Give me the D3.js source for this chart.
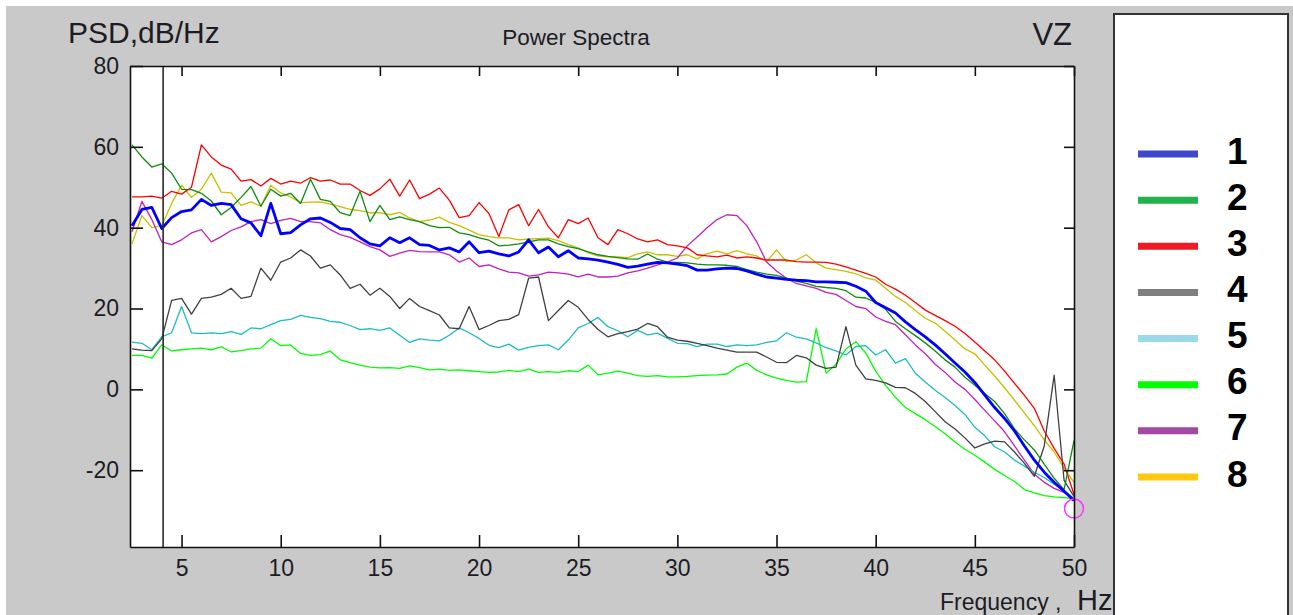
<!DOCTYPE html>
<html>
<head>
<meta charset="utf-8">
<script src="https://cdn.jsdelivr.net/npm/d3@7"></script>
<style>
  body { margin: 0; background: #c9c9c9; }
  svg { display: block; font-family: Arial, "Liberation Sans", sans-serif; }
</style>
</head>
<body>
<svg id="chart" width="1293" height="615"></svg>
<script>
// frequency grid, Hz
let freqs = [
  2.5, 3, 3.5, 4, 4.5, 5, 5.5, 6, 6.5, 7,
  7.5, 8, 8.5, 9, 9.5, 10, 10.5, 11, 11.5, 12,
  12.5, 13, 13.5, 14, 14.5, 15, 15.5, 16, 16.5, 17,
  17.5, 18, 18.5, 19, 19.5, 20, 20.5, 21, 21.5, 22,
  22.5, 23, 23.5, 24, 24.5, 25, 25.5, 26, 26.5, 27,
  27.5, 28, 28.5, 29, 29.5, 30, 30.5, 31, 31.5, 32,
  32.5, 33, 33.5, 34, 34.5, 35, 35.5, 36, 36.5, 37,
  37.5, 38, 38.5, 39, 39.5, 40, 40.5, 41, 41.5, 42,
  42.5, 43, 43.5, 44, 44.5, 45, 45.5, 46, 46.5, 47,
  47.5, 48, 48.5, 49, 49.5, 50
];

// PSD values, dB/Hz
let psd1 = [
  40.5, 44.5, 45.0, 39.8, 42.5, 44.0, 44.4, 47.0, 45.5, 46.0,
  45.7, 42.2, 41.2, 38.0, 46.0, 38.5, 38.8, 40.7, 42.2, 42.4,
  41.3, 39.8, 39.5, 37.5, 36.0, 35.5, 37.5, 36.3, 37.5, 35.8,
  35.6, 34.5, 35.0, 34.0, 36.5, 33.8, 34.2, 33.5, 33.0, 34.0,
  37.0, 33.8, 35.2, 32.8, 34.3, 32.5, 32.3, 32.0, 31.5, 30.9,
  30.2, 30.5, 31.0, 31.4, 31.3, 31.0, 30.6, 29.5, 29.5, 29.8,
  30.0, 29.9, 29.3, 28.5, 27.8, 27.5, 27.2, 27.0, 26.9, 26.6,
  26.6, 26.5, 26.4, 25.5, 24.3, 21.5, 20.2, 18.9, 16.7, 14.8,
  13.0, 11.0, 8.8, 6.5, 4.3, 1.7, -1.4, -4.5, -7.2, -10.3,
  -14.0, -17.5, -20.5, -23.0, -25.2, -27.5
];
let psd2 = [
  60.5, 57.5, 55.0, 55.8, 53.5, 49.5, 49.4, 48.5, 46.6, 43.2,
  45.0, 47.5, 50.2, 45.3, 49.5, 47.8, 48.5, 46.0, 52.0, 47.0,
  46.5, 43.7, 43.0, 49.0, 41.5, 45.5, 42.0, 42.7, 42.0, 41.5,
  40.5, 40.0, 40.1, 38.7, 38.3, 37.5, 36.9, 35.5, 35.7, 36.0,
  36.5, 37.0, 37.0, 36.0, 35.3, 34.8, 34.0, 33.3, 32.9, 32.6,
  32.3, 32.2, 33.5, 32.2, 31.5, 31.4, 31.3, 31.0, 30.8, 30.8,
  30.7, 30.4, 29.6, 29.0, 28.5, 28.2, 27.5, 26.8, 26.2, 25.5,
  25.2, 25.0, 24.4, 22.8, 22.6, 21.5, 19.8, 16.8, 15.0, 13.3,
  11.5, 9.5, 7.3, 5.5, 3.0, 1.0, -1.0, -3.0, -6.0, -9.8,
  -12.5, -15.0, -18.5, -22.0, -24.8, -12.7
];
let psd3 = [
  47.6, 47.6, 47.8, 47.3, 49.0, 48.3, 50.0, 60.5, 57.5, 55.5,
  54.5, 51.5, 51.9, 50.3, 52.2, 50.8, 51.5, 51.0, 52.4, 51.5,
  51.8, 50.8, 50.8, 49.2, 48.0, 49.6, 52.0, 47.8, 51.8, 47.2,
  48.3, 49.8, 46.8, 42.5, 43.0, 46.2, 43.5, 37.8, 44.4, 45.7,
  40.5, 44.5, 40.2, 37.5, 42.0, 41.0, 42.4, 37.5, 35.8, 39.5,
  38.5, 37.2, 36.5, 37.0, 35.8, 35.5, 35.0, 33.3, 33.0, 32.8,
  33.2, 32.5, 32.8, 32.5, 32.0, 32.0, 32.0, 31.6, 31.5, 31.5,
  31.4, 31.0, 30.3, 29.5, 28.7, 27.8, 26.0, 24.8, 23.3, 21.5,
  19.6, 18.3, 17.0, 15.6, 13.8, 11.7, 9.5, 7.3, 4.5, 1.5,
  -1.5, -4.7, -10.3, -14.6, -18.5, -26.0
];
let psd4 = [
  10.0, 9.7, 9.6, 12.5, 22.0, 22.5, 18.6, 22.5, 22.8, 23.5,
  25.0, 22.5, 23.0, 30.0, 27.0, 31.5, 32.5, 34.5, 33.0, 30.0,
  30.8, 28.3, 25.0, 26.0, 23.3, 25.0, 23.0, 20.0, 22.5, 20.5,
  19.5, 18.4, 15.2, 15.0, 20.5, 14.8, 15.8, 17.0, 17.3, 18.5,
  27.5, 27.8, 17.0, 19.5, 22.0, 20.3, 17.3, 14.8, 13.0, 13.8,
  14.3, 14.9, 16.3, 15.5, 12.9, 12.2, 11.9, 11.4, 10.8, 10.2,
  9.7, 9.2, 9.2, 9.2, 8.0, 6.7, 6.6, 8.4, 7.8, 6.0,
  5.2, 5.5, 15.5, 6.0, 2.6, 2.2, 1.6, 0.5, 0.4, -1.0,
  -3.0, -5.5, -8.0, -9.8, -12.0, -14.5, -13.5, -12.8, -13.0, -15.5,
  -18.3, -21.5, -14.0, 3.5, -22.5, -26.5
];
let psd5 = [
  11.7, 11.4, 9.8, 13.0, 14.0, 20.5, 14.0, 13.8, 14.0, 13.8,
  14.3, 13.6, 15.2, 15.0, 16.0, 17.0, 17.3, 18.3, 17.8, 17.5,
  16.8, 16.6, 15.8, 14.8, 15.0, 14.6, 15.2, 13.4, 11.6, 12.5,
  12.2, 12.0, 13.4, 15.2, 14.0, 12.6, 10.9, 10.3, 11.2, 9.7,
  10.4, 10.8, 11.0, 9.8, 12.2, 15.2, 16.3, 17.8, 15.5, 14.5,
  13.0, 14.6, 13.5, 13.9, 12.6, 11.4, 11.3, 10.6, 11.2, 11.2,
  10.6, 11.0, 10.8, 11.0, 11.6, 12.0, 14.0, 12.9, 12.5, 11.5,
  10.3, 9.5, 8.5, 10.6, 10.8, 8.5, 9.8, 6.5, 7.6, 4.0,
  1.8, -0.2, -2.0, -4.0, -6.2, -9.4, -11.5, -14.2, -15.5, -17.5,
  -19.0, -20.5, -21.8, -23.5, -25.0, -27.0
];
let psd6 = [
  8.4, 8.4, 7.7, 11.0, 9.5, 9.8, 10.0, 10.2, 9.8, 10.5,
  9.3, 9.6, 10.0, 10.2, 12.5, 10.8, 11.0, 8.9, 8.4, 8.6,
  9.5, 7.3, 6.6, 6.0, 5.5, 5.3, 5.4, 5.2, 5.8, 5.4,
  4.8, 5.0, 4.7, 4.8, 4.6, 4.4, 4.2, 4.3, 4.7, 4.4,
  5.0, 4.2, 4.4, 4.2, 4.6, 4.4, 6.0, 3.6, 4.0, 4.5,
  4.0, 3.4, 3.2, 3.4, 3.1, 3.1, 3.2, 3.4, 3.5, 3.6,
  3.8, 5.5, 6.5, 4.7, 3.6, 2.8, 2.2, 1.8, 1.9, 15.0,
  4.0, 6.2, 10.0, 11.8, 9.0, 4.5, 1.0, -2.0, -4.5, -6.0,
  -7.5, -9.2, -11.0, -13.0, -14.8, -16.3, -18.0, -19.8, -21.3, -22.8,
  -24.8, -25.6, -26.3, -26.6, -26.8, -27.0
];
let psd7 = [
  39.0, 46.5, 42.0, 36.5, 35.8, 37.0, 38.7, 39.5, 36.5, 37.8,
  39.3, 40.2, 41.5, 42.0, 41.0, 41.8, 42.3, 41.5, 41.5, 41.2,
  39.5, 38.3, 37.6, 36.5, 35.3, 34.5, 32.9, 33.7, 34.4, 34.1,
  34.0, 34.0, 33.3, 31.5, 32.5, 30.4, 30.8, 29.8, 29.0, 28.8,
  28.0, 28.3, 29.0, 28.8, 28.5, 27.8, 28.5, 27.8, 27.8, 28.0,
  28.8, 29.3, 30.0, 30.8, 31.5, 32.5, 35.5, 37.7, 40.0, 42.0,
  43.2, 43.0, 40.5, 36.5, 31.5, 29.3, 27.5, 26.2, 25.6, 25.0,
  24.0, 23.5, 22.0, 20.5, 20.0, 17.9, 16.8, 16.0, 13.5, 11.0,
  8.8, 6.2, 4.2, 1.8, 0.0, -2.5, -5.2, -7.8, -10.5, -14.0,
  -17.5, -21.0, -23.0, -24.5, -25.5, -27.0
];
let psd8 = [
  36.0, 43.0, 40.0, 40.5, 46.0, 50.5, 47.5, 49.5, 53.5, 48.8,
  48.6, 45.5, 46.4, 45.3, 50.5, 48.6, 47.6, 46.2, 46.3, 46.4,
  45.8, 45.2, 44.5, 44.2, 43.7, 43.7, 43.2, 43.8, 42.4, 41.5,
  41.9, 42.6, 41.3, 40.5, 39.4, 38.3, 37.8, 37.5, 37.5, 37.0,
  37.2, 37.3, 37.4, 36.8, 35.8, 35.0, 33.8, 33.0, 32.8, 32.8,
  32.6, 33.5, 34.0, 33.3, 33.3, 32.9, 33.3, 32.3, 33.6, 34.2,
  33.5, 34.3, 33.5, 33.0, 31.6, 34.5, 31.6, 32.0, 33.3, 31.3,
  30.0, 29.6, 29.2, 28.6, 27.6, 27.0, 25.0, 23.0, 21.5, 19.5,
  17.6, 16.4, 14.4, 12.2, 10.0, 8.8, 6.0, 3.3, 0.4, -2.7,
  -5.8, -9.0, -12.5, -15.5, -19.5, -23.0
];

let seriesNames = ['1', '2', '3', '4', '5', '6', '7', '8'];
let lineColors = ['#0000ff', '#108a10', '#ff0000', '#404040', '#1cbcc4', '#00ff00', '#c020c0', '#c8c000'];
let legendColors = ['#3f48cc', '#22b14c', '#ed1c24', '#7f7f7f', '#99d9ea', '#00ff00', '#a349a4', '#ffc90e'];
let xTicks = [5, 10, 15, 20, 25, 30, 35, 40, 45, 50];
let yTicks = [-20, 0, 20, 40, 60, 80];
let cursorFreq = [4.07];
let endMarker = [[50, -29.5]];

var allSeries = [psd1, psd2, psd3, psd4, psd5, psd6, psd7, psd8];

var plotLeft = 130, plotRight = 1074, plotTop = 66, plotBottom = 547;

var x = d3.scaleLinear().domain([2.4, 50]).range([plotLeft, plotRight]);
var y = d3.scaleLinear().domain([-39, 80]).range([plotBottom, plotTop]);

var svg = d3.select('#chart');

// window background with thin white strips top/left
svg.append('rect').attr('width', 1293).attr('height', 615).attr('fill', '#c9c9c9');
svg.append('rect').attr('width', 1293).attr('height', 6).attr('fill', '#ffffff');
svg.append('rect').attr('width', 6).attr('height', 615).attr('fill', '#ffffff');

// plot area
svg.append('rect')
  .attr('x', plotLeft).attr('y', plotTop)
  .attr('width', plotRight - plotLeft).attr('height', plotBottom - plotTop)
  .attr('fill', '#ffffff');

svg.append('clipPath').attr('id', 'plotclip')
  .append('rect')
  .attr('x', plotLeft).attr('y', plotTop - 1)
  .attr('width', plotRight - plotLeft + 1).attr('height', plotBottom - plotTop + 2);

var lineGen = d3.line()
  .x(function(d){ return x(d[0]) })
  .y(function(d){ return y(d[1]) });

var lines = svg.append('g').attr('clip-path', 'url(#plotclip)');

// draw 8 first so that 1 ends up on top
d3.range(allSeries.length - 1, -1, -1).forEach(function(i){
  var pts = freqs.map(function(f, k){ return [f, allSeries[i][k]] });
  lines.append('path')
    .datum(pts)
    .attr('fill', 'none')
    .attr('stroke', lineColors[i])
    .attr('stroke-width', i === 0 ? 2.8 : 1.3)
    .attr('stroke-linejoin', 'round')
    .attr('d', lineGen);
});

// cursor line
svg.selectAll('.cursor')
  .data(cursorFreq)
  .enter()
  .append('line')
  .attr('class', 'cursor')
  .attr('x1', function(d){ return x(d) }).attr('x2', function(d){ return x(d) })
  .attr('y1', plotTop).attr('y2', plotBottom)
  .attr('stroke', '#2a2a2a').attr('stroke-width', 1.6);

// end point marker
svg.selectAll('.endmark')
  .data(endMarker)
  .enter()
  .append('circle')
  .attr('class', 'endmark')
  .attr('cx', function(d){ return x(d[0]) })
  .attr('cy', function(d){ return y(d[1]) })
  .attr('r', 9.5)
  .attr('fill', 'none')
  .attr('stroke', '#ff33ff')
  .attr('stroke-width', 1.5);

// axes (ticks point inward), plain hyphen for negatives
var plainFmt = function(d){ return String(d) };
var leftAxis = d3.axisLeft(y).tickValues(yTicks).tickSizeInner(-13).tickSizeOuter(0).tickPadding(11).tickFormat(plainFmt);
var rightAxis = d3.axisRight(y).tickValues(yTicks).tickSizeInner(-10).tickSizeOuter(0).tickFormat('');
var bottomAxis = d3.axisBottom(x).tickValues(xTicks).tickSizeInner(-12).tickSizeOuter(0).tickPadding(13).tickFormat(plainFmt);
var topAxis = d3.axisTop(x).tickValues(xTicks).tickSizeInner(-10).tickSizeOuter(0).tickFormat('');

function styleAxis(g){
  g.selectAll('path').attr('stroke', '#111').attr('stroke-width', 1.6);
  g.selectAll('line').attr('stroke', '#111').attr('stroke-width', 1.6);
  g.selectAll('text')
    .attr('fill', '#1c1c24')
    .style('font-size', '23px')
    .style('font-family', 'Arial, "Liberation Sans", sans-serif');
}

svg.append('g').attr('transform', 'translate(' + plotLeft + ',0)').call(leftAxis).call(styleAxis);
svg.append('g').attr('transform', 'translate(' + plotRight + ',0)').call(rightAxis).call(styleAxis);
svg.append('g').attr('transform', 'translate(0,' + plotBottom + ')').call(bottomAxis).call(styleAxis);
svg.append('g').attr('transform', 'translate(0,' + plotTop + ')').call(topAxis).call(styleAxis);

// titles
svg.append('text')
  .attr('x', 68).attr('y', 43)
  .style('font-size', '30px')
  .attr('fill', '#1c1c24')
  .text('PSD,dB/Hz');

svg.append('text')
  .attr('x', 576).attr('y', 45)
  .attr('text-anchor', 'middle')
  .style('font-size', '22.5px')
  .attr('fill', '#1c1c24')
  .text('Power Spectra');

svg.append('text')
  .attr('x', 1072).attr('y', 45)
  .attr('text-anchor', 'end')
  .style('font-size', '31px')
  .attr('fill', '#1c1c24')
  .text('VZ');

svg.append('text')
  .attr('x', 940).attr('y', 610)
  .style('font-size', '23px')
  .attr('fill', '#1c1c24')
  .text('Frequency ,');

svg.append('text')
  .attr('x', 1077).attr('y', 610)
  .style('font-size', '29px')
  .attr('fill', '#1c1c24')
  .text('Hz');

// legend
var legend = svg.append('g');
legend.append('rect')
  .attr('x', 1114).attr('y', 14)
  .attr('width', 174).attr('height', 620)
  .attr('fill', '#ffffff')
  .attr('stroke', '#333')
  .attr('stroke-width', 2);

var legendY = d3.scalePoint().domain(seriesNames).range([154, 477]);

legend.selectAll('.lgline')
  .data(seriesNames)
  .enter()
  .append('line')
  .attr('class', 'lgline')
  .attr('x1', 1138).attr('x2', 1198)
  .attr('y1', function(d){ return legendY(d) })
  .attr('y2', function(d){ return legendY(d) })
  .attr('stroke', function(d, i){ return legendColors[i] })
  .attr('stroke-width', 7);

legend.selectAll('.lgtext')
  .data(seriesNames)
  .enter()
  .append('text')
  .attr('class', 'lgtext')
  .attr('x', 1227)
  .attr('y', function(d){ return legendY(d) + 9.5 })
  .style('font-size', '37px')
  .style('font-weight', 'bold')
  .attr('fill', '#000')
  .text(function(d){ return d });
</script>
</body>
</html>
